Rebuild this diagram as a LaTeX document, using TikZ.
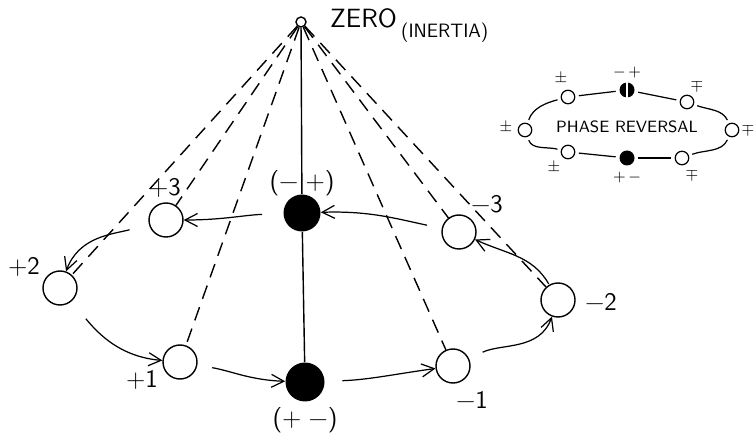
\documentclass[tikz,border=0pt]{standalone}
\usetikzlibrary{arrows.meta}
\begin{document}
\begin{tikzpicture}[x=0.02cm, y=0.02cm,
  ball/.style={circle, draw, line width=0.8pt, minimum size=0.68cm, inner sep=0pt},
  mass/.style={circle, fill=black, minimum size=0.74cm, inner sep=0pt},
  string/.style={line width=0.8pt, dash pattern=on 8pt off 5pt},
  flow/.style={line width=0.7pt, -{Straight Barb[length=2.5mm,width=2.6mm]}},
  lbl/.style={font=\sffamily\Large},
  dot/.style={circle, draw, line width=0.7pt, minimum size=0.27cm, inner sep=0pt},
  bdot/.style={circle, fill=black, minimum size=0.3cm, inner sep=0pt},
  sign/.style={font=\small, inner sep=1pt},
  ring/.style={line width=0.7pt, shorten <=2pt, shorten >=2pt}
]

  \useasboundingbox (0,0) rectangle (756,439);

  % Apex
  \node[circle, draw, line width=0.8pt, minimum size=0.2cm, inner sep=0pt] (zero) at (301,417) {};
  \node[font=\sffamily\fontsize{15}{17}\selectfont, anchor=west] (zlbl) at (324,421) {ZERO};
  \node[font=\sffamily\fontsize{11}{13}\selectfont, anchor=west] (ilbl) at (395,406) {(INERTIA)};

  % Masses on the axis
  \node[mass] (mtop) at (302,226) {};
  \node[mass, minimum size=0.78cm] (mbot) at (305,57) {};
  \node[lbl] (ltop) at (302,256) {(−\;+)};
  \node[lbl] (lbot) at (305,19) {(+\;−)};

  % Pendulum bobs
  \node[ball] (p3) at (166,219) {};
  \node[ball] (p2) at (60,151) {};
  \node[ball] (p1) at (180,77) {};
  \node[ball] (m1) at (453,73) {};
  \node[ball] (m2) at (558,139) {};
  \node[ball] (m3) at (459,207) {};

  \node[lbl] (l3) at (165,251) {+3};
  \node[lbl] (l2) at (24,172) {+2};
  \node[lbl] (l1) at (142,59) {+1};
  \node[lbl] (k1) at (472,39) {−1};
  \node[lbl] (k2) at (601,137) {−2};
  \node[lbl] (k3) at (487,235) {−3};

  % Strings
  \draw[line width=0.8pt] (zero) -- (mtop) -- (mbot);
  \foreach \b in {p3,p2,p1,m1,m2,m3}
    \draw[string] (zero) -- (\b);

  % Swing
  \draw[flow, shorten <=0.42cm] (mtop) to[out=182, in=0] (p3);
  \draw[flow, shorten <=0.4cm] (p3) to[out=195, in=70] (p2);
  \draw[flow, shorten <=0.45cm] (p2) to[out=-50, in=175] (p1);
  \draw[flow, shorten <=0.3cm] (p1) to[out=-10, in=178] (mbot);
  \draw[flow, shorten <=0.35cm] (mbot) to[out=2, in=188] (m1);
  \draw[flow, shorten <=0.3cm] (m1) to[out=25, in=250] (m2);
  \draw[flow, shorten <=0.02cm] (m2) to[out=120, in=-25] (m3);
  \draw[flow, shorten <=0.3cm] (m3) to[out=168, in=2] (mtop);

  % Phase reversal ring
  \node[dot] (il) at (525,309) {};
  \node[dot] (itl) at (568,342) {};
  \node[bdot] (it) at (627,349) {};
  \node[dot] (itr) at (687,337) {};
  \node[dot] (ir) at (732,309) {};
  \node[dot] (ibr) at (682,281) {};
  \node[bdot] (ib) at (627,281) {};
  \node[dot] (ibl) at (568,287) {};
  \draw[white, line width=0.6pt] (it.north) -- (it.south);

  \draw[ring] (il) to[out=70, in=195] (itl);
  \draw[ring] (itl) -- (it);
  \draw[ring] (it) -- (itr);
  \draw[ring] (itr) to[out=-20, in=115] (ir);
  \draw[ring] (ir) to[out=-115, in=20] (ibr);
  \draw[ring] (ibr) -- (ib);
  \draw[ring] (ib) -- (ibl);
  \draw[ring] (ibl) to[out=165, in=-70] (il);

  \node[font=\sffamily\fontsize{9.3}{11}\selectfont] (phase) at (627,312) {PHASE REVERSAL};

  \node[sign] (sl) at (506,311) {$\pm$};
  \node[sign] (stl) at (561,360) {$\pm$};
  \node[sign] (st) at (627,366) {$-\,+$};
  \node[sign] (str) at (697,353) {$\mp$};
  \node[sign] (sr) at (748,309) {$\mp$};
  \node[sign] (sbr) at (692,264) {$\mp$};
  \node[sign] (sb) at (627,261) {$+\,-$};
  \node[sign] (sbl) at (554,271) {$\pm$};

\end{tikzpicture}
\end{document}
